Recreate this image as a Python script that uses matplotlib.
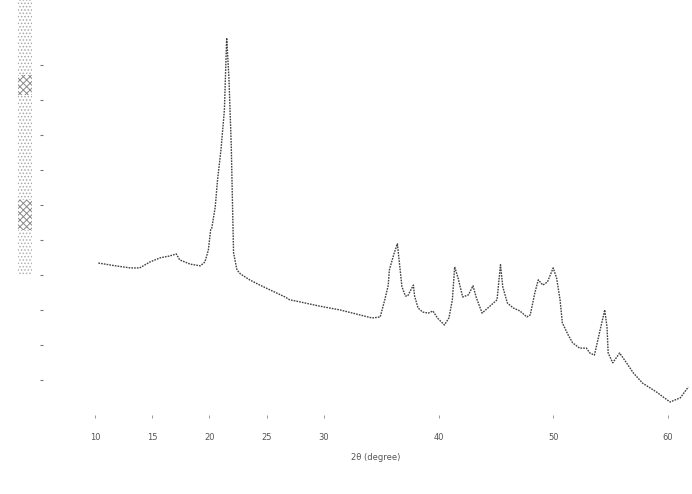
import matplotlib.pyplot as plt
from matplotlib.patches import Rectangle

plt.rcParams['hatch.linewidth'] = 0.7

# diffraction pattern, read as 2-theta (deg) / intensity (a.u.)
two_theta = [10.3, 11.8, 13.1, 13.9, 14.8, 15.7, 16.5, 17.1, 17.4, 18.3,
             19.2, 19.6, 19.9, 20.1, 20.2, 20.5, 20.7, 21.0, 21.3, 21.5,
             21.7, 21.9, 22.0, 22.1, 22.4, 22.7, 23.5, 24.4, 25.3, 26.6,
             27.0, 27.9, 29.6, 31.4, 33.1, 34.2, 34.9, 35.3, 35.6, 35.7,
             36.1, 36.4, 36.8, 37.1, 37.3, 37.8, 37.9, 38.2, 38.6, 39.1,
             39.5, 39.9, 40.5, 40.9, 41.2, 41.4, 41.7, 42.1, 42.6, 43.0,
             43.3, 43.8, 45.1, 45.4, 45.6, 46.0, 46.5, 47.1, 47.7, 48.0,
             48.4, 48.7, 49.1, 49.5, 50.0, 50.3, 50.6, 50.8, 51.3, 51.7,
             52.3, 52.9, 53.2, 53.6, 54.1, 54.5, 54.7, 54.8, 55.2, 55.8,
             56.4, 57.0, 57.8, 59.0, 60.2, 61.1, 61.8]
intensity = [43.4, 42.6, 42.0, 42.0, 43.7, 44.9, 45.4, 46.0, 44.3, 43.1,
             42.6, 43.7, 47.1, 52.9, 53.4, 59.4, 67.1, 75.7, 87.1, 107.7,
             96.0, 76.9, 61.4, 46.3, 41.4, 40.3, 38.6, 37.1, 35.7, 33.7,
             32.9, 32.3, 31.1, 30.0, 28.6, 27.7, 28.0, 32.9, 37.0, 41.4,
             46.0, 48.9, 36.6, 34.0, 34.0, 37.1, 34.0, 30.6, 29.4, 29.1,
             29.7, 27.7, 25.7, 27.7, 32.9, 42.3, 39.1, 33.7, 34.3, 36.9,
             33.4, 29.1, 32.9, 42.9, 36.6, 32.0, 30.6, 29.7, 28.0, 28.6,
             34.9, 38.6, 37.1, 38.0, 42.0, 39.1, 32.9, 26.3, 22.9, 20.6,
             19.1, 19.1, 17.7, 17.1, 24.3, 30.0, 25.1, 17.7, 14.9, 17.7,
             14.9, 12.0, 9.1, 6.6, 3.7, 4.9, 8.0]

x_ticks = [10, 15, 20, 25, 30, 40, 50, 60]
y_ticks = [10, 20, 30, 40, 50, 60, 70, 80, 90, 100]

fig = plt.figure(figsize=(6.92, 4.94), dpi=100)
ax = fig.add_axes([0.0867, 0.16, 0.913, 0.8])

ax.plot(two_theta, intensity, color='#404040', lw=1.0,
        linestyle=(0, (1.2, 0.8)))

ax.set_xlim(6.95, 62.1)
ax.set_ylim(0, 112.9)
for s in ax.spines.values():
    s.set_visible(False)

ax.set_xticks(x_ticks)
ax.set_xticklabels([str(t) for t in x_ticks], fontsize=6, color='#555555')
ax.tick_params(axis='x', length=2, width=0.6, color='#888888', pad=11)
ax.set_yticks(y_ticks)
ax.set_yticklabels([])
ax.tick_params(axis='y', length=2, width=0.8, color='#777777')
ax.spines['left'].set_position(('outward', 12))
ax.set_xlabel('2θ (degree)', fontsize=6, color='#555555', labelpad=8)

# shaded strip down the left edge
strip = [(0, 75, '.....', '#a8a8a8'), (75, 20, 'xxxxx', '#8a8a8a'),
         (95, 105, '.....', '#a8a8a8'), (200, 30, 'xxxxx', '#8a8a8a'),
         (230, 45, '.....', '#b0b0b0')]
for top, h, hatch, col in strip:
    fig.patches.append(Rectangle((18 / 692, 1 - (top + h) / 494), 14 / 692, h / 494,
                                 transform=fig.transFigure, fill=False,
                                 hatch=hatch, edgecolor=col, lw=0))

fig.savefig('out.png', dpi=100)
